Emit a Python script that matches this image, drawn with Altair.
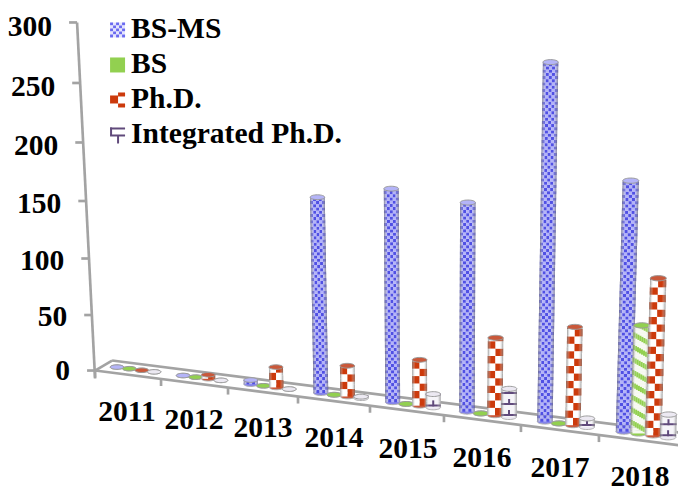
import altair as alt
import pandas as pd

# ---- data
years = ["2011", "2012", "2013", "2014", "2015", "2016", "2017", "2018"]
bs_ms = [0, 0, 7, 158, 168, 161, 268, 183]
bs = [0, 0, 0, 0, 0, 0, 0, 81]
phd = [3, 7, 20, 28, 39, 62, 76, 116]
int_phd = [0, 0, 0, 5, 14, 25, 10, 20]
series_names = ["BS-MS", "BS", "Ph.D.", "Integrated Ph.D."]
y_ticks = [0, 50, 100, 150, 200, 250, 300]

# ---- perspective projection of the 3-D scene (layout, not data)
W, H = 678, 486
SX, SY, OFF = 686 / (W + 16), 0.988, 2.5
FONT = "Liberation Serif"
FS = 29.9
group_x = [135.5, 202, 270, 341, 413, 488, 566, 646]
group_dx = [12.4, 12.6, 12.8, 13.4, 13.5, 14, 14, 14.7]
depth_k = [1.2, 1.22, 1.25, 1.27, 1.3, 1.33, 1.36, 1.4]
front_ticks = [95, 161, 228, 298, 370, 444, 521, 599, 682]
label_pos = [(127, 412), (194, 420), (263, 428), (334, 438), (408, 449), (482, 458), (560, 468), (640, 477)]
BLUE_D, BLUE_L = "#5050e4", "#b4b4f8"
GREEN, RED, PURPLE, EDGE = "#92d050", "#cc3a0c", "#604a7b", "#a3a3a3"


def front(x):
    return 370 + 0.128 * (x - 95)


def axis_py(v):
    return 370 - 1.1 * v - 0.0002 * v * v


def axis_px(py):
    return 95 - 18 * (370 - py) / 348


def lean(x, rise):
    # columns converge towards a vanishing point below the scene
    return (x - 440) * 0.00015 * rise


cell_rows = {0: [], 1: [], 2: [], 3: []}
body_rows = {0: [], 1: [], 2: [], 3: []}
base_rows = {0: [], 1: [], 2: [], 3: []}
top_rows = {0: [], 1: [], 2: [], 3: []}

for s, vals in enumerate([bs_ms, bs, phd, int_phd]):
    for i, v in enumerate(vals):
        dx = group_dx[i]
        cx = group_x[i] + (s - 1.5) * dx
        w = dx * 1.1
        base = front(cx) - 4
        eh = w * 0.33
        bot = base - eh / 2
        h = max(v * depth_k[i] - eh, 0)
        top = bot - h
        L = cx - w / 2
        base_rows[s].append(dict(x=cx, y=bot, size=w * w))
        top_rows[s].append(dict(x=cx + lean(cx, h), y=top, size=w * w))
        if h <= 0:
            continue

        def cell(x, x2, y, y2, c):
            # a piece of the cylinder wall, displaced by the lean at its height
            off = lean(cx, bot - (y + y2) / 2)
            cell_rows[s].append(dict(x=x + off, x2=x2 + off, y=y, y2=y2, c=c))

        # shading slices up the wall
        yy = bot
        while yy > top:
            y1 = max(yy - 6, top)
            off = lean(cx, bot - (y1 + yy) / 2)
            body_rows[s].append(dict(x=L + off, x2=L + w + off, y=y1, y2=yy))
            yy -= 6

        if s == 0:
            rh, n = 3.2, 5
            r = 0
            yy = bot
            while yy > top:
                y1 = max(yy - rh, top)
                for c in range(n):
                    cell(L + c * w / n, L + (c + 1) * w / n, y1, yy, BLUE_D if (r + c) % 2 else BLUE_L)
                yy -= rh
                r += 1
        elif s == 1:
            # white background in thin slices so that it follows the lean
            yy = bot
            while yy > top:
                cell(L, L + w, max(yy - 3, top), yy, "#f6f9f0")
                yy -= 3
            n = 8
            yy = bot + 10
            while yy > top - 10:
                for c in range(n):
                    yc = yy - 9 + 9 * (c + 0.5) / n
                    y1, y2 = max(yc - 2.6, top), min(yc + 2.6, bot)
                    if y2 > y1:
                        cell(L + c * w / n, L + (c + 1) * w / n, y1, y2, GREEN)
                yy -= 12.5
        elif s == 2:
            rh = 7.4
            r = 0
            yy = bot
            cols = 2
            while yy > top:
                y1 = max(yy - rh, top)
                for c in range(cols):
                    col = RED if (r + c) % 2 else "#ffffff"
                    cell(L + c * w / cols, L + (c + 1) * w / cols, y1, yy, col)
                yy -= rh
                r += 1
        else:
            cell(L, L + w, top, bot, "#f6f5f9")
            yy = bot - 1
            while yy > top:
                cell(L, L + w, yy - 2, yy, PURPLE)
                cell(cx - 1, cx + 1, max(yy - 6, top), yy, PURPLE)
                yy -= 11

# ---- floor, axis
floor_edges = [
    (95, front(95), 682, front(682)),
    (112, 360, 686, 360 + 0.127 * 574),
    (95, 370, 112, 360),
    (682, front(682), 686, 360 + 0.127 * 574),
    (77, 22, 95, 378),
]
edge_rows = [dict(x=a, y=b, x2=c, y2=d) for a, b, c, d in floor_edges]
edge_rows += [dict(x=t, y=front(t), x2=t, y2=front(t) + 7) for t in front_ticks]
ylab_rows = []
for v in y_ticks:
    py = axis_py(v)
    ax = axis_px(py)
    edge_rows.append(dict(x=ax - 8, y=py, x2=ax, y2=py))
    ylab_rows.append(dict(x=ax - 25, y=py + 1 + 3.5 * v / 300, t=str(v)))
xlab_rows = [dict(x=p[0], y=p[1], t=y) for p, y in zip(label_pos, years)]

# ---- legend
leg_text = [dict(x=131, y=yy, t=n) for yy, n in zip([38, 73, 108, 143], series_names)]
leg_cells = []
for r in range(5):
    for c in range(5):
        leg_cells.append(dict(x=110 + c * 3, x2=113 + c * 3, y=22 + r * 3, y2=25 + r * 3,
                              c="#6a6af0" if (r + c) % 2 == 0 else "#e4e4fc"))
leg_cells.append(dict(x=110, x2=125, y=57, y2=72, c=GREEN))
leg_cells += [dict(x=110, x2=118, y=95, y2=103, c=RED), dict(x=118, x2=125, y=92, y2=96, c=RED),
              dict(x=118, x2=125, y=103, y2=107, c=RED)]
leg_cells += [dict(x=110, x2=125, y=127, y2=129, c=PURPLE), dict(x=110, x2=112, y=127, y2=135, c=PURPLE),
              dict(x=110, x2=125, y=134, y2=136, c=PURPLE), dict(x=117, x2=119, y=135, y2=143, c=PURPLE)]

# ---- scales and marks
xs = alt.Scale(domain=[8 * SX, (8 + W) * SX], range=[0, W], nice=False, zero=False)
ys = alt.Scale(domain=[8 * SY + OFF, (8 + H) * SY + OFF], range=[0, H], nice=False, zero=False)
X = alt.X("x:Q", scale=xs, axis=None)
Y = alt.Y("y:Q", scale=ys, axis=None)
X2, Y2 = alt.X2("x2:Q"), alt.Y2("y2:Q")
COL = alt.Color("c:N", scale=None, legend=None)
ELLIPSE = "M-1,0A1,0.33,0,1,1,1,0A1,0.33,0,1,1,-1,0Z"
top_fill = [BLUE_L, GREEN, "#c9583a", "#ece9f2"]
base_fill = ["#8383ea", GREEN, "#c9583a", "#ece9f2"]
shade = alt.LinearGradient(
    gradient="linear", x1=0, x2=1, y1=0, y2=0,
    stops=[
        alt.GradientStop(color="rgba(110,110,110,0.75)", offset=0),
        alt.GradientStop(color="rgba(255,255,255,0)", offset=0.22),
        alt.GradientStop(color="rgba(255,255,255,0)", offset=0.75),
        alt.GradientStop(color="rgba(110,110,110,0.7)", offset=1),
    ],
)


def rects(rows):
    return alt.Chart(pd.DataFrame(rows)).mark_rect().encode(x=X, x2=X2, y=Y, y2=Y2, color=COL)


def ellipses(rows, fill, stroke):
    return alt.Chart(pd.DataFrame(rows)).mark_point(
        shape=ELLIPSE, filled=True, fill=fill, stroke=stroke, strokeWidth=1, opacity=1
    ).encode(x=X, y=Y, size=alt.Size("size:Q", scale=None, legend=None))


layers = []
layers.append(alt.Chart(pd.DataFrame(edge_rows)).mark_rule(color=EDGE, strokeWidth=2.7).encode(x=X, x2=X2, y=Y, y2=Y2))
for s in range(4):
    layers.append(ellipses(base_rows[s], base_fill[s], "#b0b0b0"))
    if cell_rows[s]:
        layers.append(rects(cell_rows[s]))
    if body_rows[s]:
        layers.append(alt.Chart(pd.DataFrame(body_rows[s])).mark_rect(fill=shade).encode(x=X, x2=X2, y=Y, y2=Y2))
    layers.append(ellipses(top_rows[s], top_fill[s], "#9a9a9a"))
layers.append(rects(leg_cells))
text = dict(font=FONT, fontSize=FS, fontWeight="bold", color="#000000")
layers.append(alt.Chart(pd.DataFrame(ylab_rows)).mark_text(align="right", baseline="middle", **text).encode(x=X, y=Y, text="t:N"))
layers.append(alt.Chart(pd.DataFrame(xlab_rows)).mark_text(align="center", baseline="middle", **text).encode(x=X, y=Y, text="t:N"))
layers.append(alt.Chart(pd.DataFrame(leg_text)).mark_text(align="left", baseline="alphabetic", **text).encode(x=X, y=Y, text="t:N"))

chart = alt.layer(*layers).properties(
    width=W, height=H, padding=0, autosize=alt.AutoSizeParams(type="none"),
    background="white",
).configure_view(stroke=None)

chart.save("out.html", embed_options={"renderer": "svg", "actions": False})
